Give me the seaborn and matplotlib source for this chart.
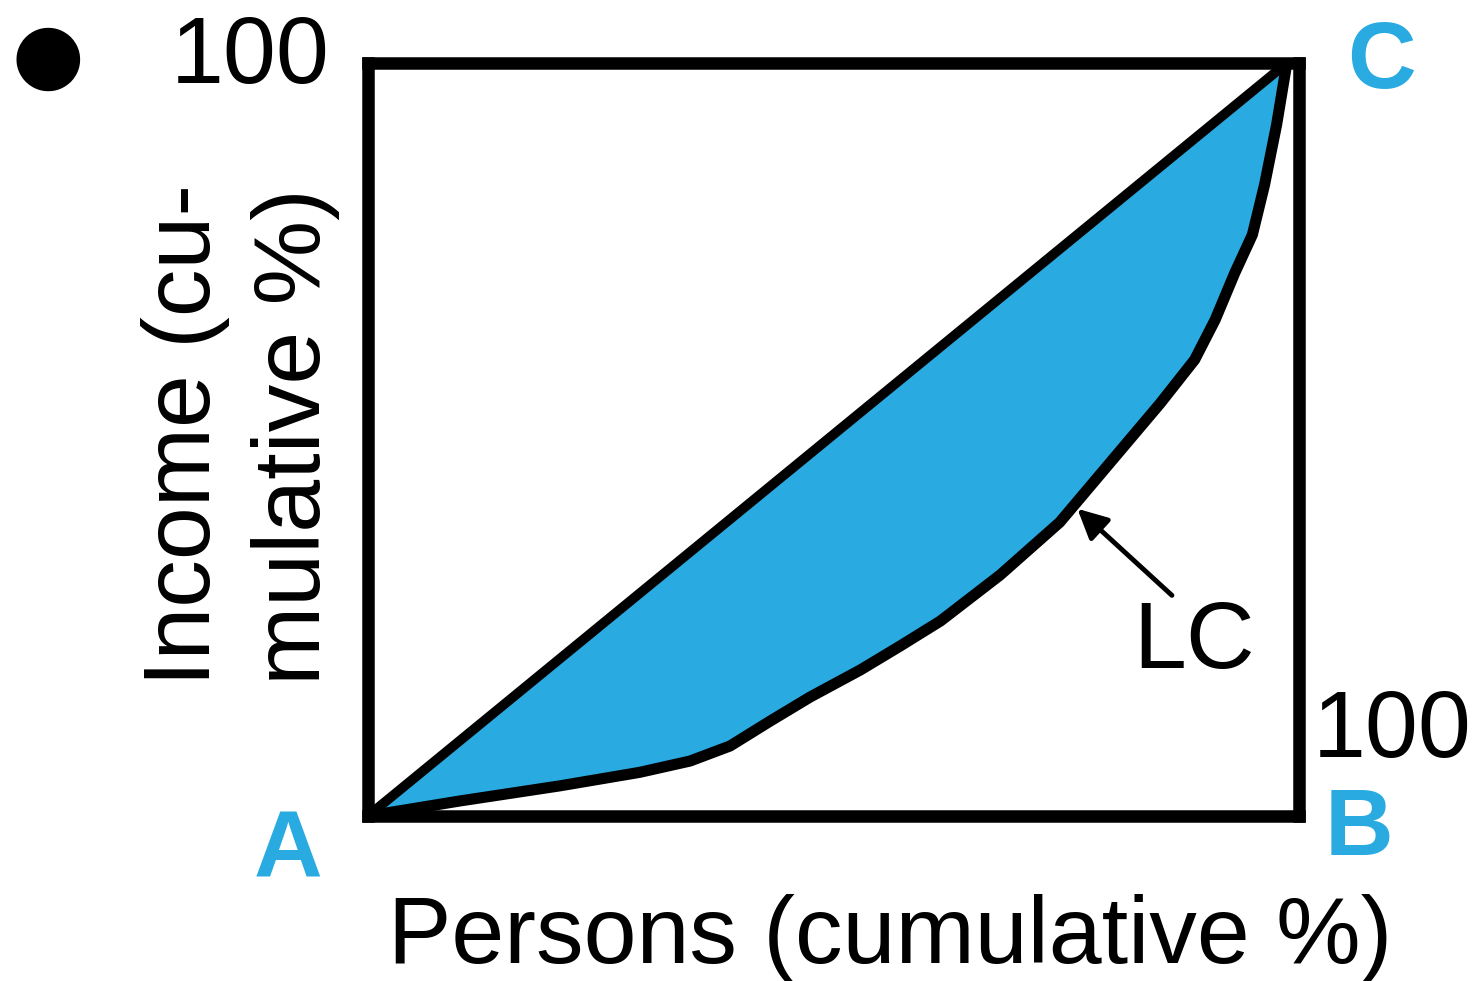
import pandas as pd
import matplotlib
matplotlib.use("Agg")
import matplotlib.pyplot as plt
import seaborn as sns

# Lorenz curve (cumulative % persons vs. income)
persons = [0, 9.9, 20.6, 29.2, 34.6, 38.9, 43.2, 47.5, 52.9, 57.2, 61.5,
           67.9, 74.3, 79.7, 85.1, 88.8, 91.0, 93.1, 95.0, 96.3, 97.6, 98.7]
income = [0, 2.0, 4.0, 5.8, 7.3, 9.3, 12.6, 15.8, 19.4, 22.6, 25.9,
          32.0, 39.0, 46.9, 54.8, 60.6, 65.9, 72.1, 77.2, 83.8, 91.8, 100]
equality_x = [0, 98.7]
equality_y = [0, 100]

blue = "#29abe2"

sns.set_style("white")
plt.rcParams["font.family"] = ["Liberation Sans", "DejaVu Sans"]
plt.rcParams["text.color"] = "black"

fig = plt.figure(figsize=(14.83, 9.81), dpi=100)
ax = fig.add_axes([0.2481, 0.1682, 0.6278, 0.7676])

df = pd.DataFrame({"persons": persons, "income": income})
diag = [p * equality_y[1] / equality_x[1] for p in persons]
ax.fill_between(persons, income, diag, color=blue, linewidth=0)
sns.lineplot(data=df, x="persons", y="income", sort=False, color="black",
             linewidth=8, ax=ax, solid_capstyle="round", solid_joinstyle="round")
sns.lineplot(x=equality_x, y=equality_y, color="black", linewidth=7, ax=ax)

ax.set_xlim(0, 100)
ax.set_ylim(0, 100)
ax.set_xticks([])
ax.set_yticks([])
ax.set_xlabel("")
ax.set_ylabel("")
for s in ax.spines.values():
    s.set_visible(True)
    s.set_linewidth(9)
    s.set_color("black")

fs = 68.5
ax.text(-4.1, 97.3, "100", ha="right", va="baseline", fontsize=fs, clip_on=False)
ax.text(101.5, 7.8, "100", ha="left", va="baseline", fontsize=fs, clip_on=False)
ax.text(105.2, 96.7, "C", ha="left", va="baseline", fontsize=fs, fontweight="bold",
        color=blue, clip_on=False)
ax.text(-12.3, -8.2, "A", ha="left", va="baseline", fontsize=fs, fontweight="bold",
        color=blue, clip_on=False)
ax.text(102.8, -5.2, "B", ha="left", va="baseline", fontsize=fs, fontweight="bold",
        color=blue, clip_on=False)

ax.annotate("LC", xy=(76.2, 40.8), xytext=(88.7, 19.7), ha="center", va="baseline",
            fontsize=fs,
            arrowprops=dict(arrowstyle="-|>", color="black", lw=3.5,
                            mutation_scale=45, shrinkA=0, shrinkB=0,
                            relpos=(0.35, 1.0)))

fig.text(48 / 1483, 1 - 57 / 981, "\u25cf", ha="center", va="center",
         fontsize=60, family="DejaVu Sans")
fig.text(890 / 1483, 1 - 963 / 981, "Persons (cumulative %)", ha="center",
         va="baseline", fontsize=fs)
fig.text(210 / 1483, 1 - 435 / 981, "Income (cu-", rotation=90,
         rotation_mode="anchor", ha="center", va="baseline", fontsize=fs)
fig.text(320 / 1483, 1 - 437 / 981, "mulative %)", rotation=90,
         rotation_mode="anchor", ha="center", va="baseline", fontsize=fs)

fig.savefig("out.png", dpi=100)
